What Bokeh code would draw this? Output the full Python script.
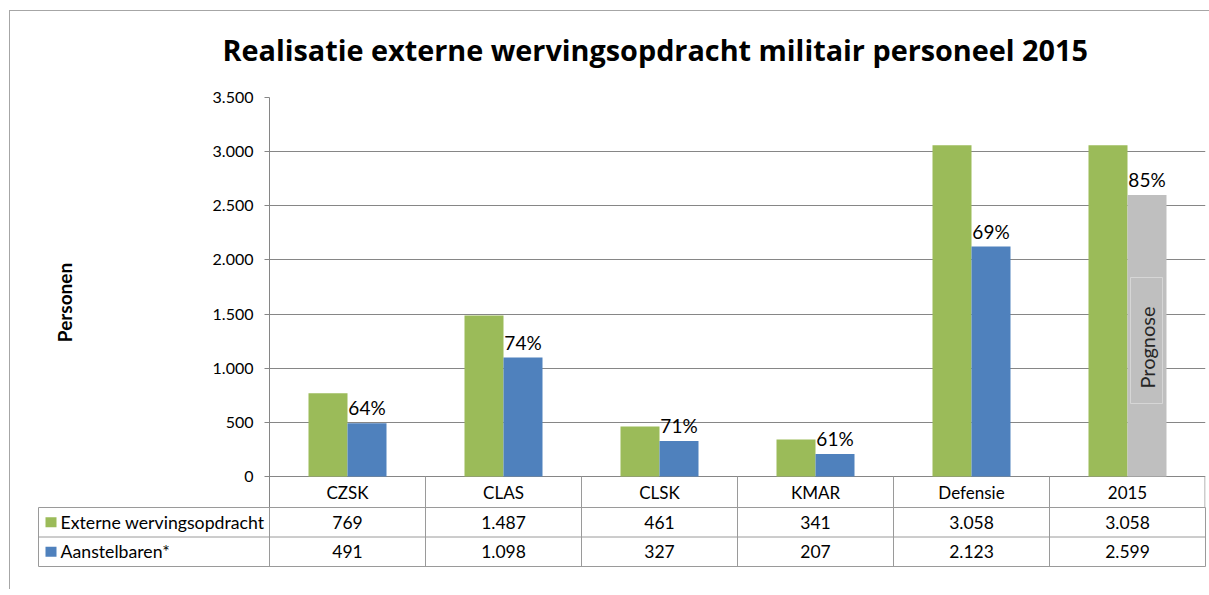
from bokeh.plotting import figure
from bokeh.layouts import column, row
from bokeh.models import FixedTicker, ColumnDataSource, Range1d, Title, Div
from bokeh.core.properties import value
from bokeh.embed import file_html
from bokeh.resources import INLINE

# ---------------- data ----------------
categories = ["CZSK", "CLAS", "CLSK", "KMAR", "Defensie", "2015"]
externe = [769, 1487, 461, 341, 3058, 3058]
aanstelbaren = [491, 1098, 327, 207, 2123, 2599]
pct_labels = ["64%", "74%", "71%", "61%", "69%", "85%"]
series_names = ["Externe wervingsopdracht", "Aanstelbaren*"]
y_ticks = [0, 500, 1000, 1500, 2000, 2500, 3000, 3500]
y_tick_labels = ["0", "500", "1.000", "1.500", "2.000", "2.500", "3.000", "3.500"]
title_text = "Realisatie externe wervingsopdracht militair personeel 2015"
y_title = "Personen"
prognose_text = "Prognose"

# ---------------- style ----------------
GREEN = "#9BBB59"
BLUE = "#4F81BD"
GRAY = "#BFBFBF"
GRID = "#868686"
TABLE_LINE = "#9A9A9A"
BORDER = "#A6A6A6"
FONT = "Lato"
TITLE_FONT = "Open Sans"

OX, OY = 10, 11                       # page px of plot origin (after the border lines)
FL, FR, FT = 269, 1205, 97            # chart frame edges, page px
ZERO = 476                            # page px of y = 0
ROW1, ROW3 = 507, 566                 # table rows (page px)
TL = 38                               # table left edge
n = len(categories)
col_w = (FR - FL) / n
upp = 3500 / (ZERO - FT)              # data units per px


def dx(px):
    return (px - FL) / col_w


def dy(py):
    return (ZERO - py) * upp


def fmt(v):
    return f"{v:,}".replace(",", ".")


W = FR + 1 - OX
H1 = ROW1 - OY
p = figure(width=W, height=H1, output_backend="svg", toolbar_location=None,
           x_range=Range1d(0, n), y_range=Range1d(dy(ROW1), 3500),
           x_axis_location=None,
           min_border_left=FL - OX, min_border_right=OX + W - FR,
           min_border_top=FT - OY, min_border_bottom=0)
p.outline_line_color = None
p.border_fill_color = "white"
p.title.visible = False
p.frame_align = False

# spacer panel between the frame and the title, then the title itself
p.add_layout(Title(text=" ", text_font=FONT, text_font_size="22px", standoff=0), "above")
t = Title(text=title_text, align="left", offset=222 - FL, standoff=0,
          text_font=TITLE_FONT, text_font_style="bold", text_font_size="28.8px",
          text_color="black")
p.add_layout(t, "above")

ticker = FixedTicker(ticks=y_ticks, minor_ticks=[])
p.yaxis.ticker = ticker
p.yaxis.major_label_overrides = dict(zip(y_ticks, y_tick_labels))
p.yaxis.axis_line_color = GRID
p.yaxis.major_tick_line_color = GRID
p.yaxis.major_tick_out = 5
p.yaxis.major_tick_in = 0
p.yaxis.minor_tick_line_color = None
p.yaxis.major_label_standoff = 11
p.yaxis.major_label_text_font = FONT
p.yaxis.major_label_text_font_size = "16px"
p.yaxis.major_label_text_color = "black"
p.yaxis.axis_label = y_title
p.yaxis.axis_label_text_font = FONT
p.yaxis.axis_label_text_font_style = "bold"
p.yaxis.axis_label_text_font_size = "19px"
p.yaxis.axis_label_text_color = "black"
p.yaxis.axis_label_standoff = 134
p.ygrid.ticker = ticker
p.ygrid.grid_line_color = GRID
p.xgrid.visible = False

# ---------------- bars ----------------
bw = 0.25
xc = [i + 0.5 for i in range(n)]
x_green = [x - bw / 2 for x in xc]
x_blue = [x + bw / 2 for x in xc]
blue_colors = [BLUE] * (n - 1) + [GRAY]
src = ColumnDataSource(dict(xg=x_green, xb=x_blue, ext=externe, aan=aanstelbaren,
                            col=blue_colors, pct=pct_labels))
p.vbar(x="xg", width=bw, top="ext", bottom=0, source=src, fill_color=GREEN, line_color=None)
p.vbar(x="xb", width=bw, top="aan", bottom=0, source=src, fill_color="col", line_color=None)
p.text(x="xb", y="aan", text="pct", source=src, text_align="center", text_baseline="bottom",
       y_offset=-4, text_font=value(FONT), text_font_size="19px", text_color="black")

# Prognose box inside the last (grey) bar
p.quad(left=[dx(1130)], right=[dx(1162)], top=[dy(277)], bottom=[dy(403)],
       fill_color=GRAY, line_color="#D6D6D6", line_width=1)
p.text(x=[x_blue[-1]], y=[dy(347)], text=[prognose_text], angle=1.5707963,
       text_align="center", text_baseline="middle", text_font=value(FONT),
       text_font_size="20px", text_color="#262626")

# category row of the data table (inside the chart frame, below zero)
vx = list(range(1, n)) + [n - 0.5 / col_w]
p.segment(x0=vx, y0=[dy(ROW1)] * n, x1=vx, y1=[0] * n, line_color=TABLE_LINE, line_width=1)
p.text(x=xc, y=[dy((ZERO + ROW1) / 2)] * n, text=categories, text_align="center",
       text_baseline="middle", text_font=value(FONT), text_font_size="17px", text_color="black")

# ---------------- value rows of the data table ----------------
H2 = 589 - ROW1
t2 = figure(width=W, height=H2, output_backend="svg", toolbar_location=None,
            x_range=Range1d(dx(TL), n), y_range=Range1d(0, 2),
            x_axis_location=None, y_axis_location=None,
            min_border_left=TL - OX, min_border_right=OX + W - FR,
            min_border_top=0, min_border_bottom=H2 - (ROW3 - ROW1))
t2.outline_line_color = TABLE_LINE
t2.border_fill_color = "white"
t2.xgrid.visible = False
t2.ygrid.visible = False
t2.title.visible = False
t2.frame_align = False

vx2 = list(range(0, n))
t2.segment(x0=vx2, y0=[0] * n, x1=vx2, y1=[2] * n, line_color=TABLE_LINE, line_width=1)
t2.segment(x0=[dx(TL)], y0=[1], x1=[n], y1=[1], line_color=TABLE_LINE, line_width=1)

row_y = [1.5, 0.5]
t2.rect(x=[dx(50.5)] * 2, y=row_y, width=11 / col_w, height=0.34,
        fill_color=[GREEN, BLUE], line_color=None)
t2.text(x=[dx(60)] * 2, y=row_y, text=series_names, text_align="left", text_baseline="middle",
        text_font=value(FONT), text_font_size="17.7px", text_color="black")
t2.text(x=xc, y=[row_y[0]] * n, text=[fmt(v) for v in externe], text_align="center",
        text_baseline="middle", text_font=value(FONT), text_font_size="17.5px", text_color="black")
t2.text(x=xc, y=[row_y[1]] * n, text=[fmt(v) for v in aanstelbaren], text_align="center",
        text_baseline="middle", text_font=value(FONT), text_font_size="17.5px", text_color="black")

# chart-area border: top and left lines
top_line = Div(text="", width=1209 - (OX - 1), height=1, margin=(OY - 1, 0, 0, OX - 1),
               styles={"background-color": BORDER})
left_line = Div(text="", width=1, height=H1 + H2, margin=(0, 0, 0, OX - 1),
                styles={"background-color": BORDER})

layout = column(top_line, row(left_line, column(p, t2, spacing=0), spacing=0), spacing=0)

open("out.html", "w").write(file_html(layout, INLINE))
